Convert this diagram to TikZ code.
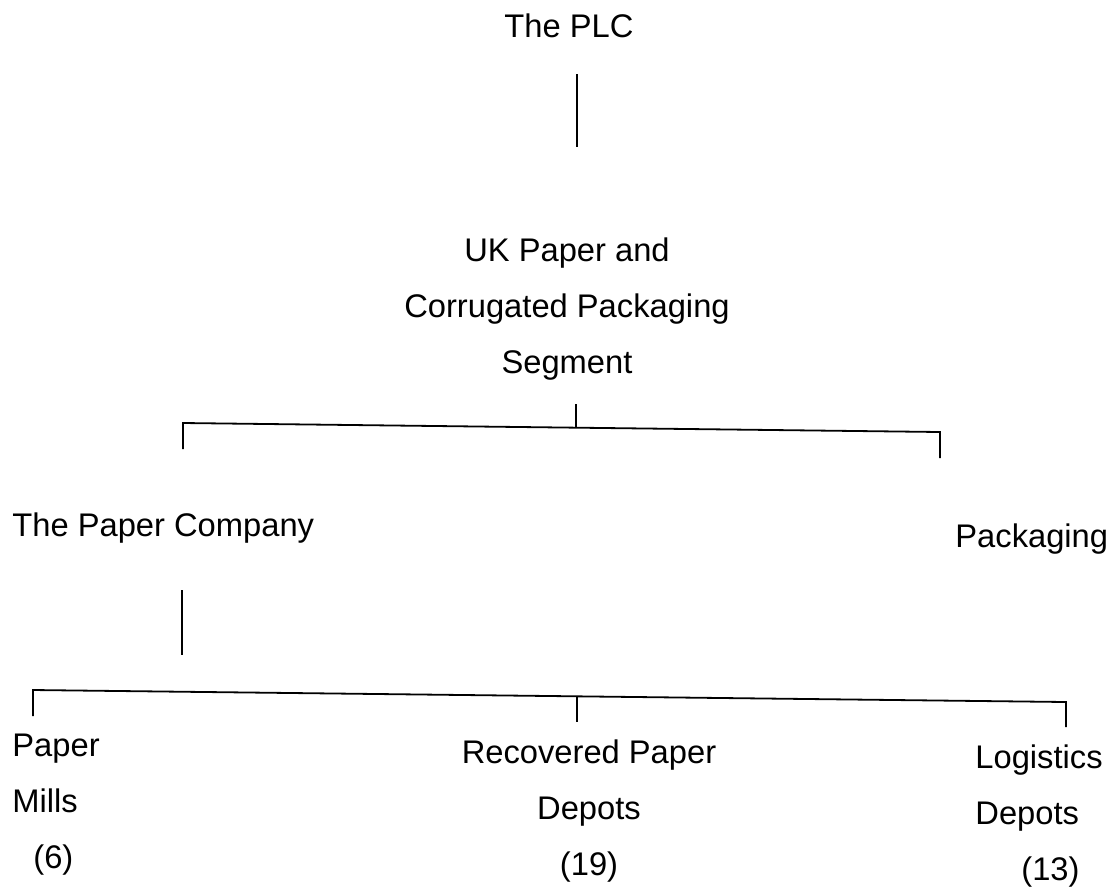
\documentclass[tikz,border=0pt]{standalone}
\usepackage{fontspec}
\setmainfont{Liberation Sans}
\begin{document}
\begin{tikzpicture}[x=0.5pt,y=-0.5pt,
  label/.style={font=\fontsize{16.35pt}{28pt}\selectfont, inner sep=0pt},
  link/.style={line width=0.9pt}]
\useasboundingbox (0,0) rectangle (1107,890);

% labels (for stacked labels the base anchor sits on the last line)
\node[label, anchor=base] (plc) at (569,37) {The PLC};
\node[label, anchor=base, align=center] (seg) at (567,373)
  {UK Paper and\\Corrugated Packaging\\Segment};
\node[label, anchor=base west] (paperco) at (12,536) {The Paper Company};
\node[label, anchor=base west] (pack) at (955,547) {Packaging};
\node[label, anchor=base west, align=left] (mills) at (12,868)
  {Paper\\Mills\\\hspace*{10.5pt}(6)};
\node[label, anchor=base, align=center] (recov) at (589,875)
  {Recovered Paper\\Depots\\(19)};
\node[label, anchor=base west, align=left] (logis) at (975,880)
  {Logistics\\Depots\\\hspace*{23pt}(13)};

% connector ends
\coordinate (plcA) at (577,74);   \coordinate (plcB) at (577,147);
\coordinate (segA) at (576,404);  \coordinate (segB) at (576,428);
\coordinate (barL) at (183,423);  \coordinate (barR) at (940,432);
\coordinate (dropL) at (183,449); \coordinate (dropR) at (940,458);
\coordinate (pcA) at (182,590);   \coordinate (pcB) at (182,655);
\coordinate (lowL) at (33,690);   \coordinate (lowR) at (1066,702);
\coordinate (lowM) at (577,696);
\coordinate (dL) at (33,716);     \coordinate (dM) at (577,722);
\coordinate (dR) at (1066,727);

% connectors
\draw[link] (plcA) -- (plcB);
\draw[link] (segA) -- (segB);
\draw[link] (dropL) -- (barL) -- (barR) -- (dropR);
\draw[link] (pcA) -- (pcB);
\draw[link] (dL) -- (lowL) -- (lowR) -- (dR);
\draw[link] (lowM) -- (dM);
\end{tikzpicture}
\end{document}
